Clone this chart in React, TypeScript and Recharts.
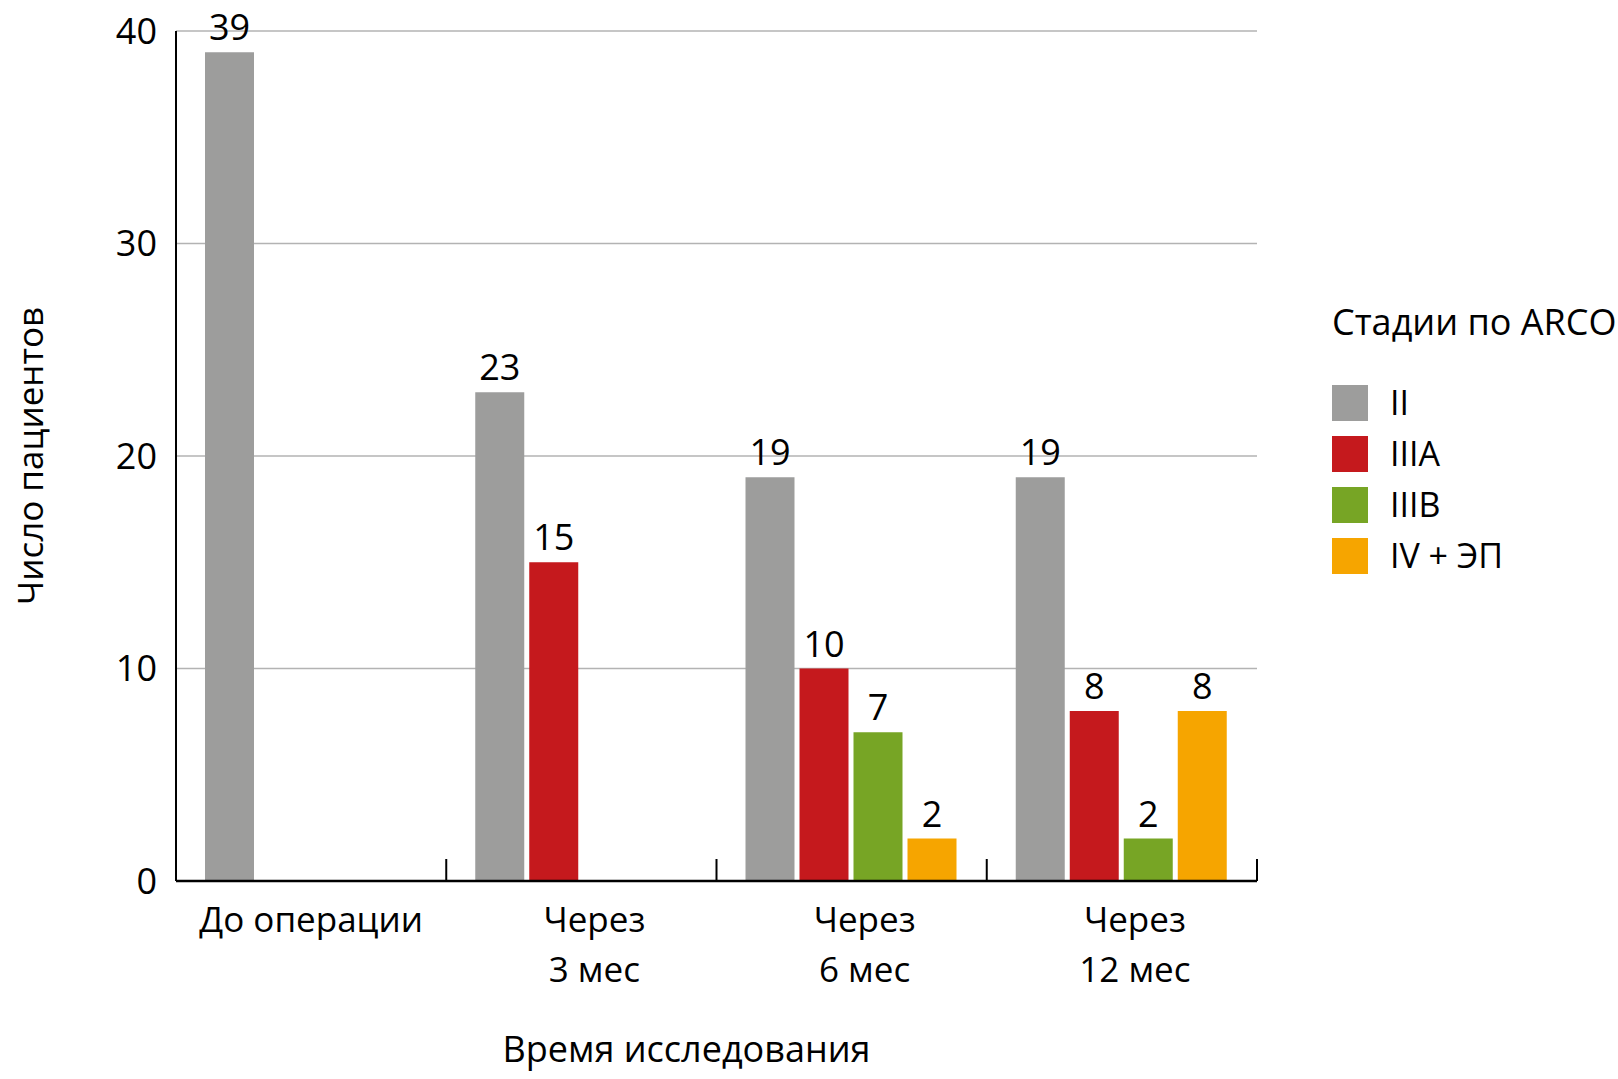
import { Bar, BarChart, CartesianGrid, Label, LabelList, Legend, XAxis, YAxis } from 'recharts';

const categories = ['До операции', 'Через\n3 мес', 'Через\n6 мес', 'Через\n12 мес'];
const stageII = [39, 23, 19, 19];
const stageIIIA = [null, 15, 10, 8];
const stageIIIB = [null, null, 7, 2];
const stageIV = [null, null, 2, 8];
const yTicks = [0, 10, 20, 30, 40];

const data = categories.map((name, i) => ({
  name,
  ii: stageII[i],
  iiia: stageIIIA[i],
  iiib: stageIIIB[i],
  iv: stageIV[i],
}));

const FONT = '"Open Sans", sans-serif';

// category label + boundary tick on the right edge of each band
const CategoryTick = (props: any) => {
  const { x, y, payload } = props;
  const half = payload?.offset ?? 0;
  const lines = String(payload.value).split('\n');
  const shift = lines.length > 1 ? 13 : 0;
  return (
    <g>
      <line x1={x + half} x2={x + half} y1={y - 22} y2={y} stroke="#000" strokeWidth={2} />
      <text x={x + shift} y={y + 51} textAnchor="middle" fontSize={35} fontFamily={FONT} fill="#000">
        {lines.map((l, i) => (
          <tspan key={i} x={x + shift} dy={i === 0 ? 0 : 50}>
            {l}
          </tspan>
        ))}
      </text>
    </g>
  );
};

const renderLegend = (props: any) => {
  const { payload } = props;
  return (
    <div style={{ fontFamily: FONT, color: '#000' }}>
      <div style={{ fontSize: 36, lineHeight: '40px', height: 40, whiteSpace: 'nowrap' }}>Стадии по ARCO</div>
      <div style={{ marginTop: 35 }}>
        {payload.map((p: any) => (
          <div key={p.value} style={{ display: 'flex', alignItems: 'center', height: 51 }}>
            <div style={{ width: 36, height: 36, background: p.color }} />
            <span style={{ marginLeft: 22, fontSize: 34, lineHeight: '51px', whiteSpace: 'nowrap' }}>{p.value}</span>
          </div>
        ))}
      </div>
    </div>
  );
};

const labelProps = { position: 'top' as const, offset: 12, fontSize: 36, fill: '#000', fontFamily: FONT };

const App = () => (
  <div style={{ position: 'absolute', left: 0, top: 0, background: '#fff' }}>
    <BarChart
      width={1618}
      height={1079}
      data={data}
      margin={{ top: 31, right: 361, bottom: 0, left: 0 }}
      barCategoryGap={29}
      barGap={5}
    >
      <CartesianGrid horizontal vertical={false} stroke="#b3b3b3" strokeWidth={1.5} />
      <XAxis
        dataKey="name"
        height={198}
        axisLine={{ stroke: '#000', strokeWidth: 2.5 }}
        tickLine={false}
        tickSize={0}
        tickMargin={0}
        interval={0}
        tick={<CategoryTick />}
      >
        <Label
          content={({ viewBox }: any) => (
            <text
              x={viewBox.x + viewBox.width / 2 - 30}
              y={1062}
              textAnchor="middle"
              fontSize={36}
              fontFamily={FONT}
              fill="#000"
            >
              Время исследования
            </text>
          )}
        />
      </XAxis>
      <YAxis
        width={176}
        domain={[0, 40]}
        ticks={yTicks}
        interval={0}
        axisLine={{ stroke: '#000', strokeWidth: 2 }}
        tickLine={false}
        tickSize={0}
        tickMargin={19}
        tick={{ fontSize: 36, fill: '#000', fontFamily: FONT }}
      >
        <Label
          content={({ viewBox }: any) => {
            const cy = viewBox.y + viewBox.height / 2;
            return (
              <text
                x={43}
                y={cy}
                transform={`rotate(-90, 43, ${cy})`}
                textAnchor="middle"
                fontSize={35}
                fontFamily={FONT}
                fill="#000"
              >
                Число пациентов
              </text>
            );
          }}
        />
      </YAxis>
      <Legend
        layout="horizontal"
        verticalAlign="middle"
        align="center"
        wrapperStyle={{ left: 1332, top: 302, width: 286 }}
        content={renderLegend}
      />
      <Bar dataKey="ii" name="II" fill="#9d9d9c" isAnimationActive={false}>
        <LabelList dataKey="ii" {...labelProps} />
      </Bar>
      <Bar dataKey="iiia" name="IIIA" fill="#c5191d" isAnimationActive={false}>
        <LabelList dataKey="iiia" {...labelProps} />
      </Bar>
      <Bar dataKey="iiib" name="IIIB" fill="#77a525" isAnimationActive={false}>
        <LabelList dataKey="iiib" {...labelProps} />
      </Bar>
      <Bar dataKey="iv" name="IV + ЭП" fill="#f6a500" isAnimationActive={false}>
        <LabelList dataKey="iv" {...labelProps} />
      </Bar>
    </BarChart>
  </div>
);

export default App;
